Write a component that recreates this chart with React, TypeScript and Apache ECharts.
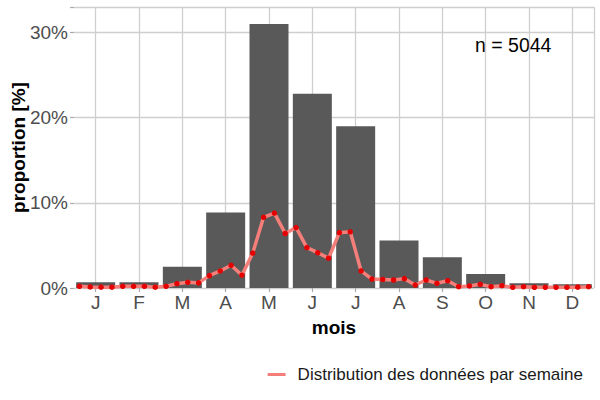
import React, { useEffect, useRef } from "react";
import * as echarts from "echarts";

const monthLabels = ["J", "F", "M", "A", "M", "J", "J", "A", "S", "O", "N", "D"];
const monthlyPct = [0.67, 0.67, 2.5, 8.86, 31.0, 22.8, 19.0, 5.57, 3.6, 1.65, 0.55, 0.43];
const weeklyPct = [
  0.2, 0.12, 0.1, 0.1,
  0.2, 0.2, 0.2, 0.1,
  0.2, 0.5, 0.67, 0.6,
  1.45, 2.0, 2.67, 1.5,
  4.1, 8.3, 8.8, 6.4,
  7.1, 4.75, 4.15, 3.5,
  6.5, 6.6, 2.0, 1.05,
  1.0, 0.94, 1.1, 0.35,
  0.94, 0.55, 0.86, 0.15,
  0.24, 0.43, 0.15, 0.27,
  0.08, 0.15, 0.08, 0.08,
  0.08, 0.08, 0.1, 0.15,
];
const weekLabels = weeklyPct.map((_, i) => "S" + (i + 1));
const yTicks = [0, 10, 20, 30];
const sampleSize = 5044;
const legendName = "Distribution des données par semaine";

const FONT = "Liberation Sans, Arial, sans-serif";
const GRID_COLOR = "#cfcfcf";

export default function App() {
  const ref = useRef<HTMLDivElement>(null);
  useEffect(() => {
    if (!ref.current) return;
    const chart = echarts.init(ref.current, null, { renderer: "svg" });
    chart.setOption({
      animation: false,
      textStyle: { fontFamily: FONT },
      grid: { left: 74, right: 6, top: 7, bottom: 112, containLabel: false, outerBoundsMode: "none" },
      xAxis: [
        {
          type: "category",
          data: monthLabels,
          boundaryGap: true,
          name: "mois",
          nameLocation: "middle",
          nameGap: 30,
          nameMoveOverlap: false,
          nameTextStyle: { fontFamily: FONT, fontSize: 19, fontWeight: "bold", color: "#000" },
          axisLine: { show: false },
          axisTick: {
            show: true,
            alignWithLabel: true,
            length: 4,
            lineStyle: { color: "#aaaaaa", width: 1.2 },
          },
          axisLabel: {
            fontFamily: FONT,
            fontSize: 19,
            color: "#4d4d4d",
            margin: 5,
            interval: 0,
          },
          splitLine: { show: false },
        },
        {
          type: "category",
          data: weekLabels,
          boundaryGap: true,
          show: true,
          axisLine: { show: false },
          axisTick: { show: false },
          axisLabel: { show: false },
          splitLine: {
            show: true,
            interval: (index: number) => index % 4 === 2,
            lineStyle: { color: GRID_COLOR, width: 1.3 },
          },
        },
      ],
      yAxis: {
        type: "value",
        min: yTicks[0],
        max: 33,
        interval: 10,
        name: "proportion [%]",
        nameLocation: "middle",
        nameGap: 46,
        nameMoveOverlap: false,
        nameRotate: 90,
        nameTextStyle: { fontFamily: FONT, fontSize: 19, fontWeight: "bold", color: "#000" },
        axisLine: { show: false },
        axisTick: { show: true, length: 4, lineStyle: { color: "#aaaaaa", width: 1.2 } },
        axisLabel: {
          formatter: (v: number) => (yTicks.includes(v) ? v + "%" : ""),
          fontFamily: FONT,
          fontSize: 19,
          color: "#4d4d4d",
          margin: 6,
        },
        splitLine: { show: true, lineStyle: { color: GRID_COLOR, width: 1.3 } },
      },
      legend: {
        right: 12,
        top: 361,
        data: [{ name: legendName, icon: "rect", itemStyle: { color: "#f47f7a" } }],
        itemWidth: 18,
        itemHeight: 3,
        textStyle: { fontFamily: FONT, fontSize: 17, color: "#1a1a1a", padding: [0, 0, 0, 7] },
      },
      graphic: [
        {
          type: "text",
          left: 475,
          top: 35,
          style: {
            text: "n = " + sampleSize,
            fontFamily: FONT,
            fontSize: 19.5,
            fill: "#000",
          },
        },
      ],
      series: [
        {
          type: "bar",
          name: "mois",
          xAxisIndex: 0,
          data: monthlyPct,
          barWidth: "90%",
          itemStyle: { color: "#595959" },
          z: 2,
        },
        {
          type: "line",
          name: legendName,
          xAxisIndex: 1,
          data: weeklyPct,
          symbol: "circle",
          symbolSize: 5.5,
          lineStyle: { color: "#f47f7a", width: 3.5 },
          itemStyle: { color: "#e50000" },
          z: 3,
        },
      ],
    });
    return () => chart.dispose();
  }, []);
  return <div ref={ref} style={{ width: 600, height: 400, position: "absolute", left: 0, top: 0 }} />;
}
